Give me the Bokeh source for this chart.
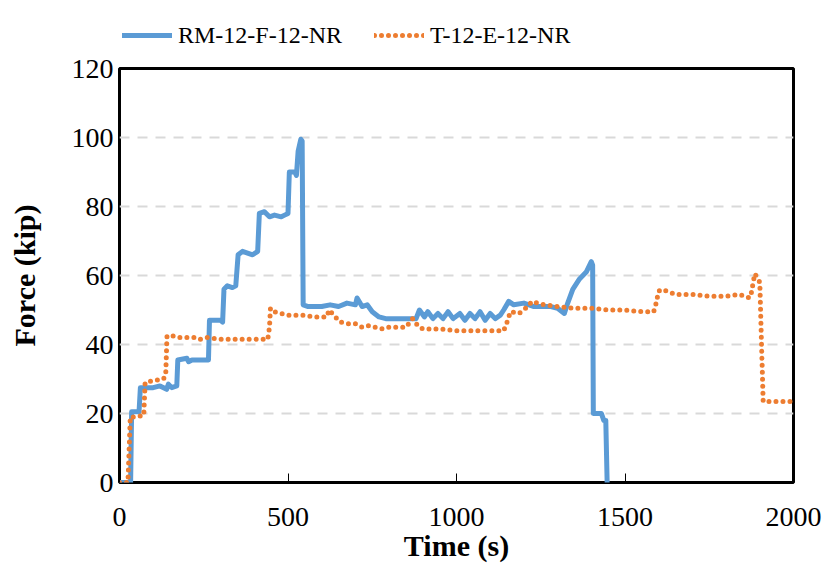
from bokeh.plotting import figure
from bokeh.layouts import column
from bokeh.models import Range1d, Legend, LegendItem, FixedTicker
from bokeh.embed import file_html
from bokeh.resources import INLINE

# ---- data ----
rm_time = [0, 33, 36, 58, 62, 100, 120, 140, 145, 155, 170, 173, 200, 205, 215, 264, 267, 300, 306,
           310, 320, 335, 345, 352, 365, 380, 395, 410, 415, 430, 445, 460, 480, 490, 500, 504, 520,
           525, 530, 538, 542, 545, 560, 600, 625, 650, 675, 700, 705, 720, 735, 750, 770, 790, 850,
           880, 890, 905, 915, 930, 945, 960, 975, 990, 1010, 1025, 1040, 1055, 1070, 1085, 1100,
           1115, 1130, 1140, 1155, 1170, 1200, 1230, 1280, 1300, 1320, 1330, 1345, 1365, 1385, 1400,
           1404, 1406, 1430, 1437, 1443, 1447]
rm_force = [0, 0, 20.5, 20.5, 27.5, 27.5, 28, 27, 28.5, 27.5, 28, 35.5, 36, 35, 35.5, 35.5, 47, 47, 46.5,
            56, 57, 56.5, 57, 66, 67, 66.5, 66, 67, 78, 78.5, 77, 77.5, 77, 77.5, 78, 90, 90,
            89, 96, 99.5, 99, 51.5, 51, 51, 51.5, 51, 52, 51.5, 53.5, 51, 51.5, 49.5, 48, 47.5, 47.5,
            47.5, 50, 48, 49.5, 47.5, 49, 47.5, 49.5, 47.5, 49, 47, 49, 47.5, 49.5, 47, 49,
            47.5, 48.5, 50, 52.5, 51.5, 52, 51, 51, 50.5, 49, 52, 56, 59, 61, 64,
            63, 20, 20, 18, 18, 0]

t_time = [0, 25, 28, 32, 50, 72, 76, 100, 130, 137, 141, 160, 180, 200, 230, 240, 260, 300, 350, 400,
          440, 445, 448, 460, 500, 540, 580, 600, 615, 622, 640, 655, 680, 700, 720, 740, 760, 780,
          800, 820, 850, 870, 885, 900, 950, 1000, 1050, 1100, 1140, 1150, 1160, 1185, 1200, 1225,
          1240, 1260, 1300, 1350, 1400, 1450, 1500, 1550, 1585, 1590, 1600, 1610, 1650, 1700, 1750,
          1800, 1840, 1870, 1875, 1885, 1895, 1900, 1910, 1950, 2000]
t_force = [0, 0, 8, 19, 19, 19.5, 29, 29.5, 30, 31, 42.5, 42.5, 42, 42, 42, 41.5, 42, 41.5, 41.5, 41.5,
           41.5, 45, 50.5, 49.5, 48.5, 48.5, 48, 48, 48, 50, 48, 46.5, 46, 46, 45, 45.5, 45, 44.5,
           45, 45, 45, 47.5, 45.5, 44.5, 44.5, 44, 44, 44, 44, 46.5, 49.5, 49, 50, 52.5,
           52, 51.5, 51, 50.5, 50.5, 50, 50, 49.5, 49.5, 51, 55.5, 56, 54.5, 54.5, 54,
           54, 54.5, 53.5, 55, 60.5, 59, 58, 23.5, 23.5, 23.5]

series_names = ["RM-12-F-12-NR", "T-12-E-12-NR"]
x_ticks = [0, 500, 1000, 1500, 2000]
y_ticks = [0, 20, 40, 60, 80, 100, 120]

BLUE = "#5B9BD5"
ORANGE = "#ED7D31"
FONT = "Liberation Serif"
BLUE_STYLE = dict(line_color=BLUE, line_width=5, line_join="round", line_cap="round")
ORANGE_STYLE = dict(line_color=ORANGE, line_width=5, line_join="round", line_cap="round", line_dash="0 7")

# ---- main chart ----
p = figure(width=837, height=525, output_backend="svg", toolbar_location=None,
           x_range=Range1d(0, 2000), y_range=Range1d(0, 120))
p.min_border_left = 119
p.min_border_right = 44
p.min_border_top = 18
p.min_border_bottom = 93
p.background_fill_color = "white"
p.border_fill_color = "white"
p.outline_line_color = "black"
p.outline_line_width = 3

r1 = p.line(rm_time, rm_force, **BLUE_STYLE)
r2 = p.line(t_time, t_force, **ORANGE_STYLE)

p.xgrid.grid_line_color = None
p.ygrid.ticker = FixedTicker(ticks=y_ticks)
p.ygrid.grid_line_color = "#D9D9D9"
p.ygrid.grid_line_width = 2
p.ygrid.grid_line_dash = "10 8"

p.xaxis.ticker = FixedTicker(ticks=x_ticks)
p.yaxis.ticker = FixedTicker(ticks=y_ticks)
for ax in (p.xaxis[0], p.yaxis[0]):
    ax.axis_line_color = None
    ax.minor_tick_line_color = None
    ax.major_label_text_font = FONT
    ax.major_label_text_font_size = "28px"
    ax.major_label_text_color = "black"
    ax.axis_label_text_font = FONT
    ax.axis_label_text_font_size = "30px"
    ax.axis_label_text_font_style = "bold"
    ax.axis_label_text_color = "black"

p.xaxis.major_tick_in = 9
p.xaxis.major_tick_out = 0
p.xaxis.major_tick_line_color = "black"
p.xaxis.major_tick_line_width = 1
p.xaxis.major_label_standoff = 25
p.xaxis.axis_label = "Time (s)"
p.xaxis.axis_label_standoff = 0

p.yaxis.major_tick_in = 0
p.yaxis.major_tick_out = 0
p.yaxis.major_tick_line_color = None
p.yaxis.major_label_standoff = 6
p.yaxis.axis_label = "Force (kip)"
p.yaxis.axis_label_standoff = 28

# ---- legend strip on top (same series, drawn out of its visible range) ----
lg = figure(width=837, height=50, output_backend="svg", toolbar_location=None,
            x_axis_type=None, y_axis_type=None, x_range=Range1d(0, 2000), y_range=Range1d(1000, 1001))
lg.min_border_left = 119
lg.min_border_right = 44
lg.min_border_top = 0
lg.min_border_bottom = 0
lg.outline_line_color = None
lg.xgrid.grid_line_color = None
lg.ygrid.grid_line_color = None
lg.background_fill_color = "white"
lg.border_fill_color = "white"
k1 = lg.line(rm_time, rm_force, **BLUE_STYLE)
k2 = lg.line(t_time, t_force, **ORANGE_STYLE)

legend = Legend(items=[LegendItem(label=series_names[0], renderers=[k1]),
                       LegendItem(label=series_names[1], renderers=[k2])],
                orientation="horizontal", location=(3, 0),
                margin=0, padding=0, spacing=32,
                glyph_width=50, glyph_height=30, label_height=30, label_standoff=6,
                label_text_font=FONT, label_text_font_size="24px", label_text_color="black",
                border_line_color=None, background_fill_alpha=0)
lg.add_layout(legend, "center")

layout = column(lg, p, spacing=0)
open("out.html", "w").write(file_html(layout, INLINE))
